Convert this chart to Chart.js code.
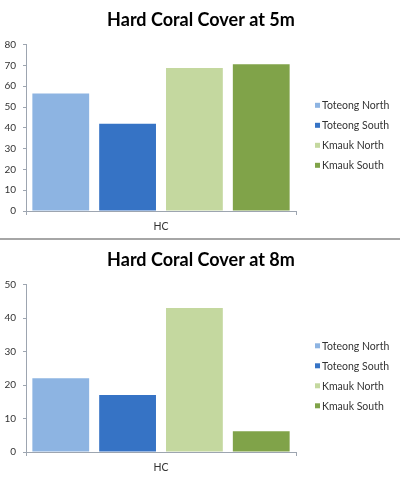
<!DOCTYPE html>
<html>
<head>
<meta charset="utf-8">
<script src="https://cdn.jsdelivr.net/npm/chart.js@4"></script>
<style>
html, body { margin: 0; padding: 0; background: #fff; }
.box { position: relative; width: 400px; }
#top { height: 238px; }
#sep { width: 400px; height: 2px; background: #a6a6a6; }
#bottom { height: 239px; }
</style>
</head>
<body>
<div class="box" id="top"><canvas id="chart5"></canvas></div>
<div id="sep"></div>
<div class="box" id="bottom"><canvas id="chart8"></canvas></div>
<script>
var categories = ['HC'];
var seriesNames = ['Toteong North', 'Toteong South', 'Kmauk North', 'Kmauk South'];
var seriesColors = ['#8db4e2', '#3673c5', '#c4d89f', '#80a349'];
var values5m = [56.5, 42, 68.8, 70.5];
var values8m = [22, 17, 43, 6.2];
var titles = ['Hard Coral Cover at 5m', 'Hard Coral Cover at 8m'];
var yMax = [80, 50];
var yStep = 10;

var axisColor = '#9da5b0';
var textColor = '#333333';

// legend drawn by hand, Excel puts the little squares very close to the text.
// it is added as a layout box on the right so the title stays centred on the full width
var sideLegend = {
	id: 'sideLegend',
	beforeInit: function(chart) {
		var box = {
			position: 'right',
			weight: 100,
			fullSize: false,
			options: {},
			width: 0,
			height: 0,
			left: 0, top: 0, right: 0, bottom: 0,
			isHorizontal: function() { return false; },
			getPadding: function() { return { top: 0, left: 0, right: 0, bottom: 0 }; },
			update: function(maxWidth, maxHeight) {
				this.width = 104;
				this.height = maxHeight;
				return this;
			},
			draw: function() {}
		};
		chart.$sideBox = box;
		Chart.layouts.addBox(chart, box);
	},
	afterDraw: function(chart) {
		var ctx = chart.ctx;
		var sets = chart.data.datasets;
		var rowH = 20;
		var mid = (chart.chartArea.top + chart.chartArea.bottom) / 2 + 8;
		var y0 = mid - rowH * (sets.length - 1) / 2;
		var x = chart.$sideBox.left + 19;
		ctx.save();
		ctx.font = '10.5px Lato';
		ctx.textBaseline = 'middle';
		ctx.textAlign = 'left';
		for (var i = 0; i < sets.length; i++) {
			var y = y0 + i * rowH;
			ctx.fillStyle = sets[i].backgroundColor;
			ctx.fillRect(x, y - 3, 5, 5);
			ctx.fillStyle = textColor;
			ctx.fillText(sets[i].label, x + 7, y);
		}
		ctx.restore();
	}
};

function makeDatasets(values) {
	var out = [];
	for (var i = 0; i < seriesNames.length; i++) {
		out.push({
			label: seriesNames[i],
			data: [values[i]],
			backgroundColor: seriesColors[i],
			categoryPercentage: 0.99,
			barPercentage: 0.85
		});
	}
	return out;
}

function createGraphic(canvasId, title, values, max) {
	var canvas = document.getElementById(canvasId);
	return new Chart(canvas, {
		type: 'bar',
		data: {
			labels: categories,
			datasets: makeDatasets(values)
		},
		plugins: [sideLegend],
		options: {
			responsive: true,
			maintainAspectRatio: false,
			animation: false,
			layout: {
				padding: { left: 2, right: 0, top: 0, bottom: 0 }
			},
			plugins: {
				legend: { display: false },
				tooltip: { enabled: false },
				title: {
					display: true,
					text: title,
					color: '#000',
					font: { family: 'Lato', size: 18, weight: 'bold' },
					padding: { top: 9, bottom: 14 }
				}
			},
			scales: {
				x: {
					afterFit: function(scale) { scale.height = 27; },
					grid: { drawOnChartArea: false, color: axisColor, tickLength: 4 },
					border: { color: axisColor },
					ticks: {
						font: { family: 'Lato', size: 10.5 },
						color: textColor,
						padding: 5
					}
				},
				y: {
					min: 0,
					max: max,
					afterFit: function(scale) { scale.width = 24; },
					grid: { drawOnChartArea: false, color: axisColor, tickLength: 3 },
					border: { color: axisColor },
					ticks: {
						stepSize: yStep,
						font: { family: 'Lato', size: 10 },
						color: textColor,
						padding: 7
					}
				}
			}
		}
	});
}

createGraphic('chart5', titles[0], values5m, yMax[0]);
createGraphic('chart8', titles[1], values8m, yMax[1]);
</script>
</body>
</html>
